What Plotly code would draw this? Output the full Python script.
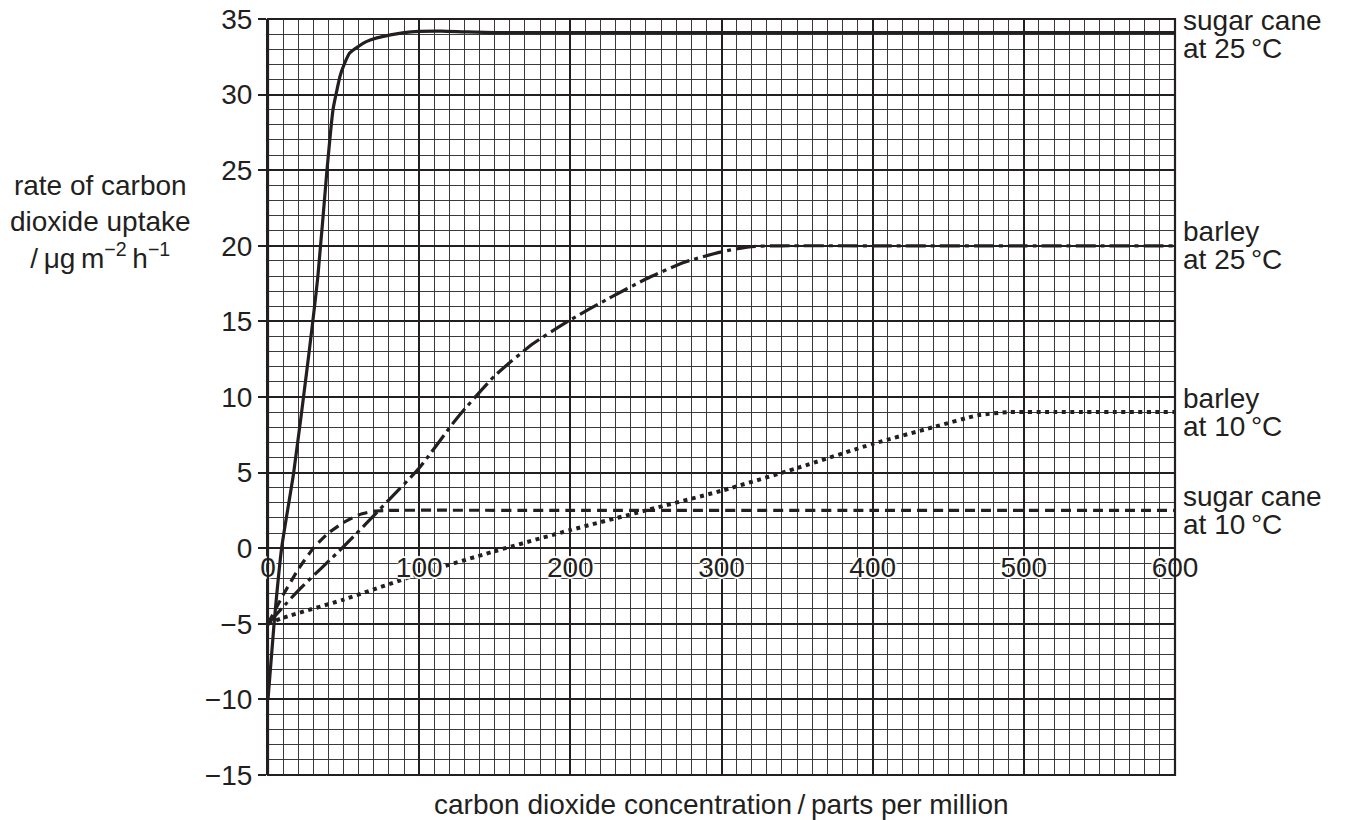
import plotly.graph_objects as go

# ---- data ----
sc25_x = [0, 4, 9, 17, 26, 33, 39, 43, 45.6, 47.6, 50, 54, 60, 65, 72, 81, 90, 100, 115, 130, 150, 200, 300, 400, 500, 600]
sc25_y = [-10, -5, 0, 5, 12, 18, 25, 29, 30.3, 31.2, 31.9, 32.75, 33.2, 33.5, 33.75, 33.95, 34.1, 34.18, 34.2, 34.15, 34.1, 34.1, 34.1, 34.1, 34.1, 34.1]

sc10_x = [0, 10, 20, 30, 40, 50, 60, 70, 80, 200, 400, 600]
sc10_y = [-5, -3.1, -1.4, 0, 1.0, 1.7, 2.2, 2.45, 2.5, 2.5, 2.5, 2.5]

b25_x = [0, 20, 50, 80, 100, 125, 150, 175, 200, 225, 250, 275, 300, 320, 340, 400, 500, 600]
b25_y = [-5, -2.8, 0.1, 3.2, 5.3, 8.6, 11.4, 13.5, 15.1, 16.5, 17.8, 18.9, 19.6, 19.95, 20, 20, 20, 20]

b10_x = [0, 10, 50, 100, 150, 200, 250, 300, 350, 400, 440, 470, 490, 520, 600]
b10_y = [-5, -4.6, -3.4, -1.7, -0.2, 1.2, 2.5, 3.8, 5.3, 6.9, 8.0, 8.8, 9.0, 9.0, 9.0]

x_ticks = [0, 100, 200, 300, 400, 500, 600]
y_ticks = [-15, -10, -5, 0, 5, 10, 15, 20, 25, 30, 35]

labels = [(["sugar cane", "at 25\u2009°C"], 34.1),
          (["barley", "at 25\u2009°C"], 20),
          (["barley", "at 10\u2009°C"], 9),
          (["sugar cane", "at 10\u2009°C"], 2.5)]

y_title = "rate of carbon<br>dioxide uptake<br>/\u2009μg\u2009m<sup>−2</sup>\u2009h<sup>−1</sup>"
x_title = "carbon dioxide concentration\u2009/\u2009parts per million"

FONT = "Liberation Sans, Arial, sans-serif"
FS = 28
INK = "#231f20"

fig = go.Figure()

def add_curve(x, y, dash, width=3.2):
    fig.add_trace(go.Scatter(x=x, y=y, mode="lines",
                             line=dict(color=INK, width=width, dash=dash, shape="spline", smoothing=0.6),
                             showlegend=False, hoverinfo="skip"))

add_curve(sc25_x, sc25_y, "solid")
add_curve(sc10_x, sc10_y, "10px,6px")
add_curve(b25_x, b25_y, "20px,5px,4px,5px")
add_curve(b10_x, b10_y, "4px,4.5px", width=4)

for lines, yv in labels:
    top_adj = -2 if yv > 30 else 0
    for i, t in enumerate(lines):
        fig.add_annotation(x=600, y=yv, xref="x", yref="y", text=t, showarrow=False,
                           xanchor="left", yanchor="middle", align="left",
                           xshift=6, yshift=14 - 28 * i + top_adj,
                           font=dict(family=FONT, size=FS, color=INK))

fig.add_annotation(x=0, y=21.6, xref="paper", yref="y", text=y_title,
                   showarrow=False, xanchor="center", yanchor="middle", align="center",
                   xshift=-168, font=dict(family=FONT, size=FS, color=INK))

fig.add_annotation(x=0.5, y=0, xref="paper", yref="paper", text=x_title,
                   showarrow=False, xanchor="center", yanchor="middle", yshift=-29,
                   font=dict(family=FONT, size=FS, color=INK))

# frame
fig.add_shape(type="rect", xref="x domain", yref="y domain", x0=0, x1=1, y0=0, y1=1,
              line=dict(color=INK, width=2.2), layer="above")

shadow = "2px 0 1px white, -2px 0 1px white, 0 2px 1px white, 0 -2px 1px white"

fig.update_xaxes(range=[0, 600], tickvals=x_ticks, ticktext=[str(v) for v in x_ticks],
                 anchor="free", position=0.3, showline=False, ticks="",
                 ticklabeloverflow="allow", automargin=False,
                 tickfont=dict(family=FONT, size=FS, color=INK, shadow=shadow),
                 showgrid=True, gridcolor=INK, gridwidth=1.7, zeroline=False,
                 minor=dict(dtick=10, showgrid=True, gridcolor="#3a3a3a", gridwidth=1),
                 fixedrange=True)
fig.update_yaxes(range=[-15, 35], tickvals=y_ticks,
                 showline=True, linecolor=INK, linewidth=2.2,
                 ticks="outside", ticklen=8, tickwidth=2, tickcolor=INK,
                 ticklabeloverflow="allow", automargin=False,
                 tickfont=dict(family=FONT, size=FS, color=INK),
                 showgrid=True, gridcolor=INK, gridwidth=1.7, zeroline=False,
                 minor=dict(dtick=1, showgrid=True, gridcolor="#3a3a3a", gridwidth=1),
                 fixedrange=True)

# the page body adds an 8px offset; margins compensate so the plot area lands where the reference has it
fig.update_layout(width=1346, height=820,
                  margin=dict(l=260, r=179, t=11, b=53, autoexpand=False),
                  paper_bgcolor="white", plot_bgcolor="white",
                  font=dict(family=FONT, color=INK))

fig.write_html("out.html")
